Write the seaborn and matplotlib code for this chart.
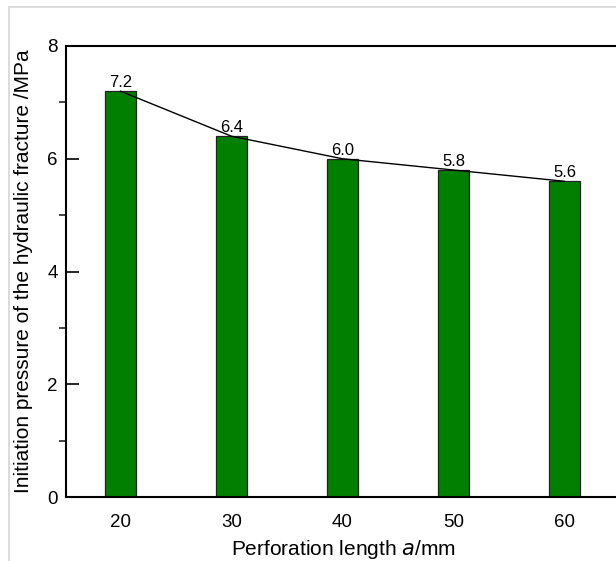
import seaborn as sb
import matplotlib.pyplot as plt
from matplotlib.patches import Rectangle
from matplotlib.ticker import MultipleLocator

lengths = [20, 30, 40, 50, 60]
pressures = [7.2, 6.4, 6.0, 5.8, 5.6]
labels = ["7.2", "6.4", "6.0", "5.8", "5.6"]

sb.set_style("ticks")
plt.rcParams["font.family"] = ["Liberation Sans", "DejaVu Sans"]
plt.rcParams["text.color"] = "black"
plt.rcParams["axes.labelcolor"] = "black"

fig = plt.figure(figsize=(6.16, 5.61), dpi=100)
ax = fig.add_axes([66 / 616, 64 / 561, 554 / 616, 451 / 561])

sb.barplot(x=lengths, y=pressures, native_scale=True, width=0.28, color="#007f00",
           edgecolor="#222222", linewidth=0.9, saturation=1, ax=ax)
sb.lineplot(x=lengths, y=pressures, color="black", linewidth=1, ax=ax)

for xv, yv, t in zip(lengths, pressures, labels):
    ax.text(xv, yv + 0.02, t, ha="center", va="bottom", fontsize=12, color="black")

ax.set_xlim(15.1, 65)
ax.set_ylim(0, 8)
ax.set_xticks(lengths)
ax.yaxis.set_major_locator(MultipleLocator(2))
ax.yaxis.set_minor_locator(MultipleLocator(1))
ax.tick_params(axis="both", direction="in", labelsize=13.5, width=1.2, colors="black")
ax.tick_params(axis="y", which="major", length=9, pad=6)
ax.tick_params(axis="y", which="minor", length=5, width=1.2)
ax.tick_params(axis="x", which="major", length=7, pad=12)
for s in ["left", "top", "bottom"]:
    ax.spines[s].set_linewidth(1.5)
    ax.spines[s].set_color("black")
ax.spines["right"].set_visible(False)

ax.set_xlabel("Perforation length $\\it{a}$/mm", fontsize=15, labelpad=5)
ax.set_ylabel("Initiation pressure of the hydraulic fracture /MPa", fontsize=15, labelpad=10)

fig.patches.append(Rectangle((9 / 616, -0.1), 1.2, (554 / 561) + 0.1, transform=fig.transFigure,
                             fill=False, edgecolor="#d4d4d4", linewidth=1.2))

fig.savefig("out.png", dpi=100)
